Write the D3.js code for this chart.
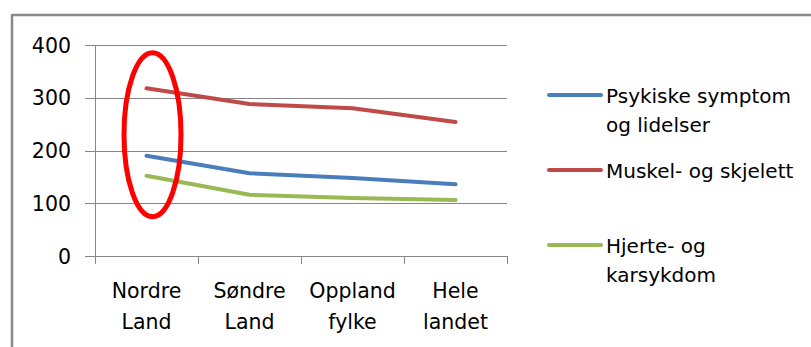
<!DOCTYPE html>
<html><head><meta charset="utf-8">
<script src="https://cdn.jsdelivr.net/npm/d3@7/dist/d3.min.js"></script>
<style>body{margin:0;background:#fff}svg{display:block}</style>
</head><body>
<script>
const categories = [["Nordre","Land"],["Søndre","Land"],["Oppland","fylke"],["Hele","landet"]];
const seriesNames = [["Psykiske symptom","og lidelser"],["Muskel- og skjelett"],["Hjerte- og","karsykdom"]];
const psykiske = [190, 157, 148, 136];
const muskel = [318, 288, 280, 254];
const hjerte = [152, 116, 110, 106];
const yTicks = [0, 100, 200, 300, 400];
const colors = ["#4A7EBB", "#BE4B48", "#98B954"];
const series = [psykiske, muskel, hjerte];

const W = 811, H = 347;
const svg = d3.select("body").append("svg").attr("width", W).attr("height", H);
const font = "DejaVu Sans";
const fs = 20.5;

// frame
svg.append("line").attr("x1", 12).attr("x2", W).attr("y1", 15).attr("y2", 15).attr("stroke", "#8a8a8a").attr("stroke-width", 2.5);
svg.append("line").attr("x1", 12).attr("x2", 12).attr("y1", 14).attr("y2", H).attr("stroke", "#8a8a8a").attr("stroke-width", 2.5);

const x = d3.scaleBand().domain(d3.range(categories.length)).range([95, 507]);
const y = d3.scaleLinear().domain([0, 400]).range([256, 45]);

// gridlines
svg.append("g").selectAll("line").data(yTicks).join("line")
  .attr("x1", 85).attr("x2", 507)
  .attr("y1", d => Math.round(y(d)) + 0.5).attr("y2", d => Math.round(y(d)) + 0.5)
  .attr("stroke", "#868686").attr("stroke-width", 1);
// y axis
svg.append("line").attr("x1", 95.5).attr("x2", 95.5).attr("y1", y(400)).attr("y2", 264).attr("stroke", "#868686");
// x ticks
const tickXs = d3.range(categories.length + 1).map(i => i < categories.length ? x(i) : x.range()[1]);
svg.append("g").selectAll("line").data(tickXs).join("line")
  .attr("x1", d => Math.round(d) + 0.5).attr("x2", d => Math.round(d) + 0.5)
  .attr("y1", y(0)).attr("y2", 264).attr("stroke", "#868686");

// y labels
svg.append("g").selectAll("text").data(yTicks).join("text")
  .attr("x", 71).attr("y", d => y(d) + 7.5).attr("text-anchor", "end")
  .attr("font-family", font).attr("font-size", fs).attr("fill", "#000").text(d => d);

// x labels
const xl = svg.append("g").selectAll("text").data(categories).join("text")
  .attr("text-anchor", "middle").attr("font-family", font).attr("font-size", fs).attr("fill", "#000");
xl.each(function(d, i) {
  const t = d3.select(this);
  d.forEach((s, j) => t.append("tspan").attr("x", x(i) + x.bandwidth() / 2).attr("y", 298 + j * 31).text(s));
});

// lines
const line = d3.line().x((d, i) => x(i) + x.bandwidth() / 2).y(d => y(d));
svg.append("g").selectAll("path").data(series).join("path")
  .attr("d", d => line(d)).attr("fill", "none")
  .attr("stroke", (d, i) => colors[i]).attr("stroke-width", 4).attr("stroke-linecap", "round").attr("stroke-linejoin", "round");

// annotation ellipse
svg.append("ellipse").attr("cx", x(0) + x.bandwidth() / 2 + 6).attr("cy", y(230)).attr("rx", 28.5).attr("ry", 82)
  .attr("fill", "none").attr("stroke", "#FF0000").attr("stroke-width", 5);

// legend
const legY = [95, 170, 245];
const lg = svg.append("g");
seriesNames.forEach((names, i) => {
  lg.append("line").attr("x1", 549).attr("x2", 601).attr("y1", legY[i]).attr("y2", legY[i])
    .attr("stroke", colors[i]).attr("stroke-width", 4).attr("stroke-linecap", "round");
  const t = lg.append("text").attr("font-family", font).attr("font-size", 20).attr("fill", "#000");
  names.forEach((s, j) => t.append("tspan").attr("x", 606).attr("y", legY[i] + 8 + j * 29).text(s));
});
</script>
</body></html>
